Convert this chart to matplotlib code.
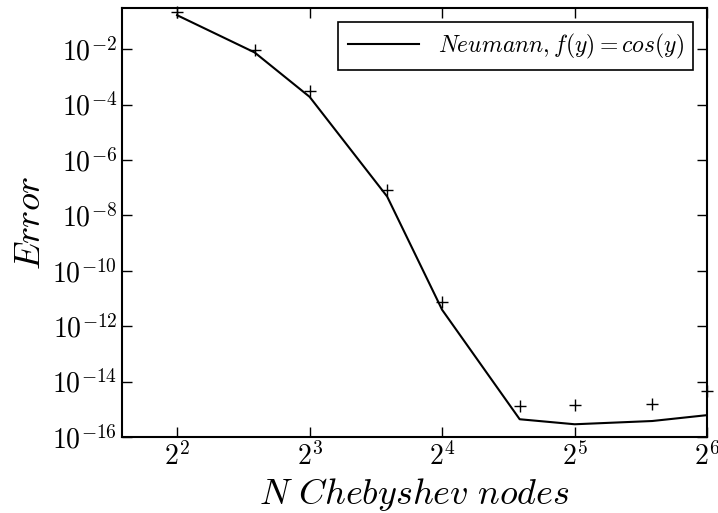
import matplotlib
matplotlib.use('Agg')
import matplotlib.pyplot as plt
import numpy as np
from matplotlib.ticker import NullLocator, FuncFormatter

plt.rcParams['mathtext.fontset'] = 'cm'
plt.rcParams['font.family'] = 'DejaVu Serif'
plt.rcParams['xtick.direction'] = 'in'
plt.rcParams['ytick.direction'] = 'in'
plt.rcParams['xtick.top'] = True
plt.rcParams['ytick.right'] = True

# число узлов Чебышёва
nodes = [4, 6, 8, 12, 16, 24, 32, 48, 64]
# ошибка (линия)
err_line = [1.68e-1, 7.6e-3, 1.9e-4, 4.8e-8, 3.9e-12, 4.4e-16, 2.9e-16, 3.8e-16, 6.2e-16]
# ошибка (маркеры +)
err_marks = [2.15e-1, 9.5e-3, 3.2e-4, 8.3e-8, 7.6e-12, 1.3e-15, 1.4e-15, 1.6e-15, 4.5e-15]
x_ticks = [4, 8, 16, 32, 64]
y_ticks = [1e-16, 1e-14, 1e-12, 1e-10, 1e-8, 1e-6, 1e-4, 1e-2]

fig = plt.figure(figsize=(7.18, 5.13), dpi=100)
ax = fig.add_axes([0.170, 0.148, 0.815, 0.836])

ax.plot(nodes, err_line, color='black', lw=1.5, label=r'$Neumann, f(y) = cos(y)$')
ax.plot(nodes, err_marks, linestyle='none', marker='+', color='black', ms=9, mew=1,
        clip_on=False)

ax.set_xscale('log', base=2)
ax.set_yscale('log')
ax.set_xlim(3, 64)
ax.set_ylim(1e-16, 0.3)
ax.set_xticks(x_ticks)
ax.set_yticks(y_ticks)
ax.xaxis.set_major_formatter(FuncFormatter(lambda v, p: r'$2^{%d}$' % round(np.log2(v))))
ax.yaxis.set_major_formatter(FuncFormatter(lambda v, p: r'$10^{%d}$' % round(np.log10(v))))
ax.xaxis.set_minor_locator(NullLocator())
ax.yaxis.set_minor_locator(NullLocator())
ax.tick_params(axis='both', which='major', labelsize=20, length=7, width=1)
for s in ax.spines.values():
    s.set_linewidth(1.5)

ax.set_xlabel(r'$N\ Chebyshev\ nodes$', fontsize=26)
ax.set_ylabel(r'$Error$', fontsize=26)

leg = ax.legend(loc='upper right', fontsize=17, fancybox=False, framealpha=1,
                edgecolor='black', borderaxespad=0.6, handlelength=3)
leg.get_frame().set_linewidth(1.2)

plt.savefig('out.png', dpi=100)
plt.close()
